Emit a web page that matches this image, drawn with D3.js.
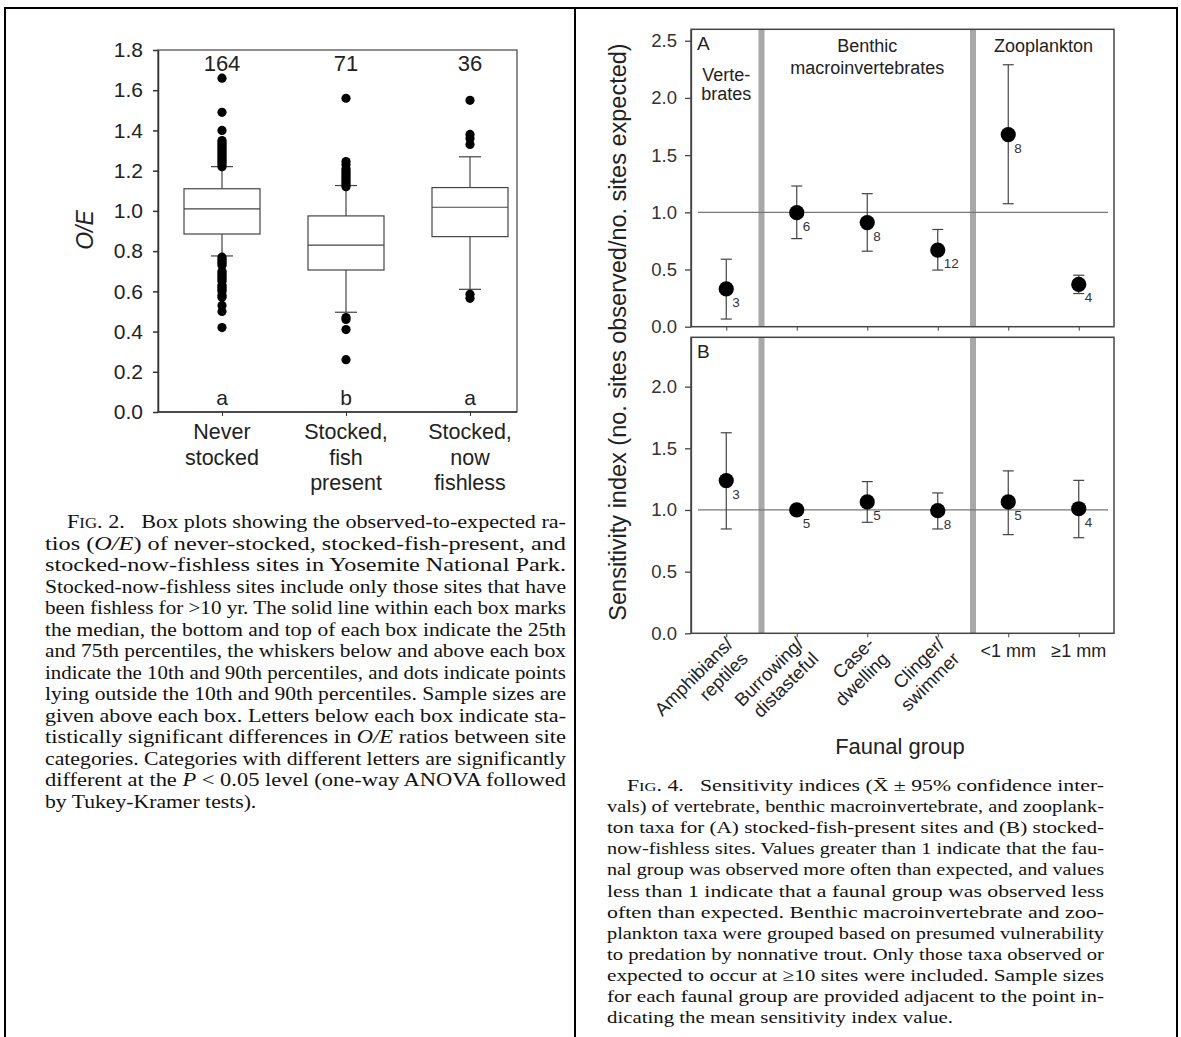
<!DOCTYPE html>
<html><head><meta charset="utf-8">
<script src="https://cdn.jsdelivr.net/npm/d3@7"></script>
<style>body{margin:0;background:#fff} svg{display:block}</style>
</head><body>
<svg id="c" width="1181" height="1037"></svg>
<script>
// ---------- Fig. 2 data ----------
const siteCategories = [["Never","stocked"],["Stocked,","fish","present"],["Stocked,","now","fishless"]];
const sampleSizes = ["164","71","36"];
const groupLetters = ["a","b","a"];
const p10 = [0.776, 0.496, 0.61];
const p25 = [0.885, 0.706, 0.872];
const medians = [1.01, 0.83, 1.018];
const p75 = [1.11, 0.975, 1.116];
const p90 = [1.22, 1.126, 1.269];
const outliersNever = [1.66,1.49,1.40,1.35,1.34,1.33,1.32,1.31,1.30,1.29,1.28,1.27,1.26,1.25,1.24,1.23,1.22,
  0.77,0.76,0.75,0.74,0.73,0.70,0.69,0.68,0.67,0.66,0.65,0.63,0.62,0.61,0.60,0.58,0.57,0.53,0.50,0.42];
const outliersFishPresent = [1.56,1.245,1.23,1.21,1.20,1.19,1.18,1.17,1.16,1.15,1.14,1.13,1.12,0.47,0.46,0.41,0.26];
const outliersFishless = [1.55,1.38,1.36,1.33,0.585,0.565];
const oeTicks = [0,0.2,0.4,0.6,0.8,1.0,1.2,1.4,1.6,1.8];

// ---------- Fig. 4 data ----------
const faunalGroups = [["Amphibians/","reptiles"],["Burrowing/","distasteful"],["Case-","dwelling"],["Clinger/","swimmer"],["<1 mm"],["\u22651 mm"]];
const groupHeaders = [["Verte-","brates"],["Benthic","macroinvertebrates"],["Zooplankton"]];
const headerCenters = [0, 2, 4.5];
const dividersAfter = [0.5, 3.5];
const meanA = [0.33, 0.997, 0.91, 0.67, 1.68, 0.37];
const lowA  = [0.067, 0.77, 0.66, 0.495, 1.075, 0.29];
const highA = [0.59, 1.23, 1.163, 0.85, 2.29, 0.45];
const nA = ["3","6","8","12","8","4"];
const meanB = [1.238, 1.0, 1.065, 0.994, 1.065, 1.01];
const lowB  = [0.846, 0.99, 0.90, 0.846, 0.80, 0.775];
const highB = [1.626, 1.01, 1.23, 1.138, 1.317, 1.24];
const nB = ["3","5","5","8","5","4"];
const sensTicksA = [0,0.5,1.0,1.5,2.0,2.5];
const sensTicksB = [0,0.5,1.0,1.5,2.0];

// ---------- captions ----------
const captionFig2 = [
 "Box plots showing the observed-to-expected ra-",
 "tios (<i>O/E</i>) of never-stocked, stocked-fish-present, and",
 "stocked-now-fishless sites in Yosemite National Park.",
 "Stocked-now-fishless sites include only those sites that have",
 "been fishless for >10 yr. The solid line within each box marks",
 "the median, the bottom and top of each box indicate the 25th",
 "and 75th percentiles, the whiskers below and above each box",
 "indicate the 10th and 90th percentiles, and dots indicate points",
 "lying outside the 10th and 90th percentiles. Sample sizes are",
 "given above each box. Letters below each box indicate sta-",
 "tistically significant differences in <i>O/E</i> ratios between site",
 "categories. Categories with different letters are significantly",
 "different at the <i>P</i> < 0.05 level (one-way ANOVA followed",
 "by Tukey-Kramer tests)."];
const captionFig4 = [
 "Sensitivity indices (X\u0304 \u00b1 95% confidence inter-",
 "vals) of vertebrate, benthic macroinvertebrate, and zooplank-",
 "ton taxa for (A) stocked-fish-present sites and (B) stocked-",
 "now-fishless sites. Values greater than 1 indicate that the fau-",
 "nal group was observed more often than expected, and values",
 "less than 1 indicate that a faunal group was observed less",
 "often than expected. Benthic macroinvertebrate and zoo-",
 "plankton taxa were grouped based on presumed vulnerability",
 "to predation by nonnative trout. Only those taxa observed or",
 "expected to occur at \u226510 sites were included. Sample sizes",
 "for each faunal group are provided adjacent to the point in-",
 "dicating the mean sensitivity index value."];

const svg = d3.select("#c");
const SANS = "'Liberation Sans', Arial, Helvetica, sans-serif";
const SERIF = "'Liberation Serif', 'Times New Roman', serif";
const INK = "#222";

// ---------- outer frame ----------
svg.append("path").attr("d","M5,1037 V8 H1177 V1037 M575,8 V1037")
  .attr("fill","none").attr("stroke","#000").attr("stroke-width",2);

// ================= Fig. 2 =================
const L = {left:158, right:517, top:50, bottom:412};
const yOE = d3.scaleLinear().domain([0,1.8]).range([L.bottom, L.top]);
const xOE = d3.scalePoint().domain([0,1,2]).range([222,470]);
const g2 = svg.append("g");
g2.append("rect").attr("x",L.left).attr("y",L.top).attr("width",L.right-L.left).attr("height",L.bottom-L.top)
  .attr("fill","none").attr("stroke","#444").attr("stroke-width",1.2);
const axL = g2.append("g").attr("transform",`translate(${L.left},0)`)
  .call(d3.axisLeft(yOE).tickValues(oeTicks).tickFormat(d3.format(".1f")).tickSize(5).tickSizeOuter(0).tickPadding(10));
axL.selectAll("text").attr("font-family",SANS).attr("font-size",21).attr("fill",INK);
axL.selectAll("line,path").attr("stroke","#333").attr("stroke-width",1.5);
const axB = g2.append("g").attr("transform",`translate(0,${L.bottom})`)
  .call(d3.axisBottom(xOE).tickSize(4).tickSizeOuter(0).tickFormat(""));
axB.select("path").remove();
axB.selectAll("line").attr("stroke","#333");
g2.append("line").attr("x1",L.left).attr("x2",L.right).attr("y1",L.bottom).attr("y2",L.bottom).attr("stroke","#333").attr("stroke-width",1.5);

const outlierSets = [outliersNever, outliersFishPresent, outliersFishless];
const bw = 38, cw = 11;
[0,1,2].forEach(i=>{
  const cx = xOE(i);
  const gb = g2.append("g").attr("stroke","#444").attr("stroke-width",1.2).attr("fill","none");
  gb.append("line").attr("x1",cx).attr("x2",cx).attr("y1",yOE(p90[i])).attr("y2",yOE(p75[i]));
  gb.append("line").attr("x1",cx).attr("x2",cx).attr("y1",yOE(p25[i])).attr("y2",yOE(p10[i]));
  gb.append("line").attr("x1",cx-cw).attr("x2",cx+cw).attr("y1",yOE(p90[i])).attr("y2",yOE(p90[i]));
  gb.append("line").attr("x1",cx-cw).attr("x2",cx+cw).attr("y1",yOE(p10[i])).attr("y2",yOE(p10[i]));
  gb.append("rect").attr("x",cx-bw).attr("width",2*bw).attr("y",yOE(p75[i])).attr("height",yOE(p25[i])-yOE(p75[i])).attr("fill","#fff");
  gb.append("line").attr("x1",cx-bw).attr("x2",cx+bw).attr("y1",yOE(medians[i])).attr("y2",yOE(medians[i]));
  g2.selectAll(null).data(outlierSets[i]).enter().append("circle")
    .attr("cx",cx).attr("cy",d=>yOE(d)).attr("r",4.6).attr("fill","#000");
  g2.append("text").attr("x",cx).attr("y",71).attr("text-anchor","middle").attr("font-family",SANS).attr("font-size",22).attr("fill",INK).text(sampleSizes[i]);
  g2.append("text").attr("x",cx).attr("y",405).attr("text-anchor","middle").attr("font-family",SANS).attr("font-size",21).attr("fill",INK).text(groupLetters[i]);
  siteCategories[i].forEach((s,j)=>{
    g2.append("text").attr("x",cx).attr("y",439+j*25.5).attr("text-anchor","middle").attr("font-family",SANS).attr("font-size",21.5).attr("fill",INK).text(s);
  });
});
g2.append("text").attr("transform","translate(93,230) rotate(-90)").attr("text-anchor","middle")
  .attr("font-family",SANS).attr("font-size",23).attr("font-style","italic").attr("fill",INK).text("O/E");

// ================= Fig. 4 =================
const R = {left:691, right:1114};
const xS = d3.scalePoint().domain(d3.range(6)).range([R.left,R.right]).padding(0.5);
const step = xS.step();
const xPos = v => xS(0) + v*step;
const panels = [
  {y: d3.scaleLinear().domain([0,2.6]).range([326.7,29.3]), ticks: sensTicksA, mean: meanA, low: lowA, high: highA, n: nA, tag:"A"},
  {y: d3.scaleLinear().domain([0,2.4]).range([633.3,337.3]), ticks: sensTicksB, mean: meanB, low: lowB, high: highB, n: nB, tag:"B"}
];
panels.forEach((p,pi)=>{
  const g = svg.append("g");
  const [y0,y1] = p.y.range();
  dividersAfter.forEach(d=>{
    g.append("rect").attr("x",xPos(d)-3).attr("width",6).attr("y",y1).attr("height",y0-y1).attr("fill","#a8a8a8");
  });
  g.append("line").attr("x1",R.left+7).attr("x2",R.right-6).attr("y1",p.y(1)).attr("y2",p.y(1)).attr("stroke","#777").attr("stroke-width",1.2);
  g.append("rect").attr("x",R.left).attr("y",y1).attr("width",R.right-R.left).attr("height",y0-y1)
    .attr("fill","none").attr("stroke","#444").attr("stroke-width",1.5);
  const ax = g.append("g").attr("transform",`translate(${R.left},0)`)
    .call(d3.axisLeft(p.y).tickValues(p.ticks).tickFormat(d3.format(".1f")).tickSize(6).tickSizeOuter(0).tickPadding(8));
  ax.selectAll("text").attr("font-family",SANS).attr("font-size",18.5).attr("fill","#333");
  ax.selectAll("line,path").attr("stroke","#444").attr("stroke-width",1.3);
  const bx = g.append("g").attr("transform",`translate(0,${y0})`)
    .call(d3.axisBottom(xS).tickSize(4).tickSizeOuter(0).tickFormat(""));
  bx.select("path").remove();
  bx.selectAll("line").attr("stroke","#444");
  d3.range(6).forEach(i=>{
    const cx = xS(i);
    const ge = g.append("g").attr("stroke","#444").attr("stroke-width",1.2);
    ge.append("line").attr("x1",cx).attr("x2",cx).attr("y1",p.y(p.high[i])).attr("y2",p.y(p.low[i]));
    ge.append("line").attr("x1",cx-5.5).attr("x2",cx+5.5).attr("y1",p.y(p.high[i])).attr("y2",p.y(p.high[i]));
    ge.append("line").attr("x1",cx-5.5).attr("x2",cx+5.5).attr("y1",p.y(p.low[i])).attr("y2",p.y(p.low[i]));
    g.append("circle").attr("cx",cx).attr("cy",p.y(p.mean[i])).attr("r",7.6).attr("fill","#000");
    g.append("text").attr("x",cx+6).attr("y",p.y(p.mean[i])+18).attr("font-family",SANS).attr("font-size",13.5).attr("fill","#333").text(p.n[i]);
  });
  g.append("text").attr("x",697).attr("y",y1+21).attr("font-family",SANS).attr("font-size",19).attr("fill",INK).text(p.tag);
});
const hdrY = [[81,100],[52,74],[52]];
groupHeaders.forEach((h,i)=>{
  h.forEach((s,j)=>{
    svg.append("text").attr("x",xPos(headerCenters[i])).attr("y",hdrY[i][j]).attr("text-anchor","middle")
      .attr("font-family",SANS).attr("font-size",18).attr("fill",INK).text(s);
  });
});
faunalGroups.forEach((lab,i)=>{
  const cx = xS(i);
  if (lab.length === 1) {
    svg.append("text").attr("x",cx).attr("y",657).attr("text-anchor","middle").attr("font-family",SANS).attr("font-size",18).attr("fill",INK).text(lab[0]);
  } else {
    const t = svg.append("text").attr("transform",`translate(${cx+8},${645}) rotate(-45)`)
      .attr("text-anchor","end").attr("font-family",SANS).attr("font-size",18.5).attr("fill",INK);
    lab.forEach((s,j)=>t.append("tspan").attr("x",0).attr("dy",j?21:0).text(s));
  }
});
svg.append("text").attr("x",900).attr("y",754).attr("text-anchor","middle").attr("font-family",SANS).attr("font-size",22).attr("fill",INK).text("Faunal group");
svg.append("text").attr("transform","translate(626,332) rotate(-90)").attr("text-anchor","middle")
  .attr("font-family",SANS).attr("font-size",23.5).attr("fill",INK).text("Sensitivity index (no. sites observed/no. sites expected)");

// ================= captions =================
function caption(lines, figNo, x0, x1, indent, firstBase, lh, fs){
  const texts = lines.map((line,k)=>{
    const t = svg.append("text").attr("x", k===0 ? x0+indent : x0).attr("y", firstBase + k*lh)
      .attr("font-family",SERIF).attr("font-size",fs).attr("fill","#111");
    if (k===0){
      t.append("tspan").text("F");
      t.append("tspan").attr("font-size",fs*0.76).text("IG");
      t.append("tspan").text(". "+figNo+".\u00a0\u00a0 ");
    }
    line.split(/(<i>.*?<\/i>)/).forEach(part=>{
      if (!part) return;
      const m = part.match(/^<i>(.*)<\/i>$/);
      t.append("tspan").attr("font-style", m ? "italic":"normal").text(m ? m[1] : part);
    });
    return t;
  });
  const natural = texts.map(t=>t.node().getComputedTextLength());
  const stretch = d3.median(natural.slice(1,-1).map(w=>(x1-x0)/w));
  texts.forEach((t,k)=>{
    const target = k===texts.length-1 ? natural[k]*stretch : (k===0 ? x1-x0-indent : x1-x0);
    t.attr("textLength", target).attr("lengthAdjust","spacingAndGlyphs");
  });
}
caption(captionFig2, "2", 45, 566, 22, 528, 21.5, 18);
caption(captionFig4, "4", 607, 1104, 20, 791, 21.1, 17.5);
</script>
</body></html>
